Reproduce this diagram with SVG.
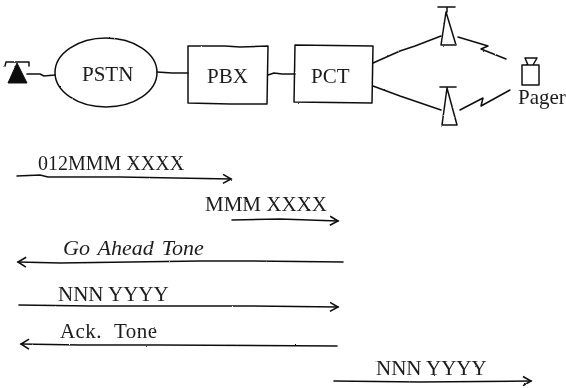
<svg xmlns="http://www.w3.org/2000/svg" width="566" height="388" viewBox="0 0 566 388">
<style>
.l{fill:none;stroke:#111;stroke-width:1.5;stroke-linejoin:round;stroke-linecap:round}
.f{fill:#111;stroke:#111;stroke-width:1}
text{font-family:"Liberation Serif","Times New Roman",serif;font-size:21px;fill:#1c1c1c}
.i{font-style:italic}
</style>
<defs>
<filter id="r" x="0" y="0" width="566" height="388" filterUnits="userSpaceOnUse" primitiveUnits="userSpaceOnUse"><feTurbulence type="fractalNoise" baseFrequency="0.35" numOctaves="2" seed="4"/><feDisplacementMap in="SourceGraphic" scale="1.6" xChannelSelector="R" yChannelSelector="G"/></filter>
<marker id="a" markerUnits="userSpaceOnUse" markerWidth="14" markerHeight="14" refX="12" refY="7" orient="auto"><path d="M4 2.500 L12 7 L4 11.500" fill="none" stroke="#111" stroke-width="1.6"/></marker>
<marker id="b" markerUnits="userSpaceOnUse" markerWidth="14" markerHeight="14" refX="2" refY="7" orient="auto"><path d="M10 2 L2 7 L10 12" fill="none" stroke="#111" stroke-width="1.6"/></marker>
</defs>
<g filter="url(#r)">
<g id="connectors">
<path class="l" d="M27 74 L40 74 L44 76 L55 75"/>
<path class="l" d="M157 72 L172 73 L188 73"/>
<path class="l" d="M268 75 L274 73 L282 74 L295 74"/>
<path class="l" d="M373 63 L400 51 L415 46 L441 36"/>
<path class="l" d="M373 86 L400 96 L441 110"/>
<path class="l" d="M458 37 L488 46 L481 49 L506 59"/>
<path class="l" d="M460 110 L483 98 L481 106 L510 90"/>
<path class="l" marker-end="url(#a)" d="M17 176 L40 175 L48 177 L120 177 L231 179"/>
<path class="l" marker-end="url(#a)" d="M232 220 L280 219 L338 221"/>
<path class="l" marker-start="url(#b)" d="M18 262 L60 263 L200 261 L250 261 L343 262"/>
<path class="l" marker-end="url(#a)" d="M19 305 L90 306 L250 306 L338 307"/>
<path class="l" marker-start="url(#b)" d="M21 344 L80 345 L160 345 L337 346"/>
<path class="l" marker-end="url(#a)" d="M334 381 L420 382 L531 381"/>
</g>
<g id="phone"><path class="f" d="M17 63 L8 83 L27 83 Z"/><path class="l" d="M5 66 L6 62 L29 62 L29 66"/></g>
<g id="pstn"><ellipse class="l" cx="106" cy="72.500" rx="51" ry="34.500"/><text x="82" y="81">PSTN</text></g>
<g id="pbx"><path class="l" d="M188 46 L225 46 L240 47 L268 46 L267 104 L230 104 L188 103 Z"/><text x="207" y="83">PBX</text></g>
<g id="pct"><path class="l" d="M295 45 L373 46 L372 103 L294 102 Z"/><text x="311" y="83">PCT</text></g>
<g id="tower1"><path class="l" d="M438 7 L455 7 M447 8 L447 12 M446 12 L441 45 L456 45 Z"/></g>
<g id="tower2"><path class="l" d="M440 87 L456 87 M447 88 L442 125 L457 125 Z"/></g>
<g id="pager"><path class="l" d="M522 65 L539 65 L539 85 L522 85 Z M525 58 L537 58 L533 65 L528 65 Z"/><text x="518" y="104">Pager</text></g>
<g id="labels">
<text x="38" y="170" style="font-size:20px">012MMM XXXX</text>
<text x="205" y="211">MMM XXXX</text>
<text class="i" x="63" y="255" style="font-size:22px;word-spacing:2.500px">Go Ahead Tone</text>
<text x="58" y="301">NNN YYYY</text>
<text x="60" y="338" style="word-spacing:7px;letter-spacing:.4px">Ack. Tone</text>
<text x="376" y="375">NNN YYYY</text>
</g>
</g>
</svg>
